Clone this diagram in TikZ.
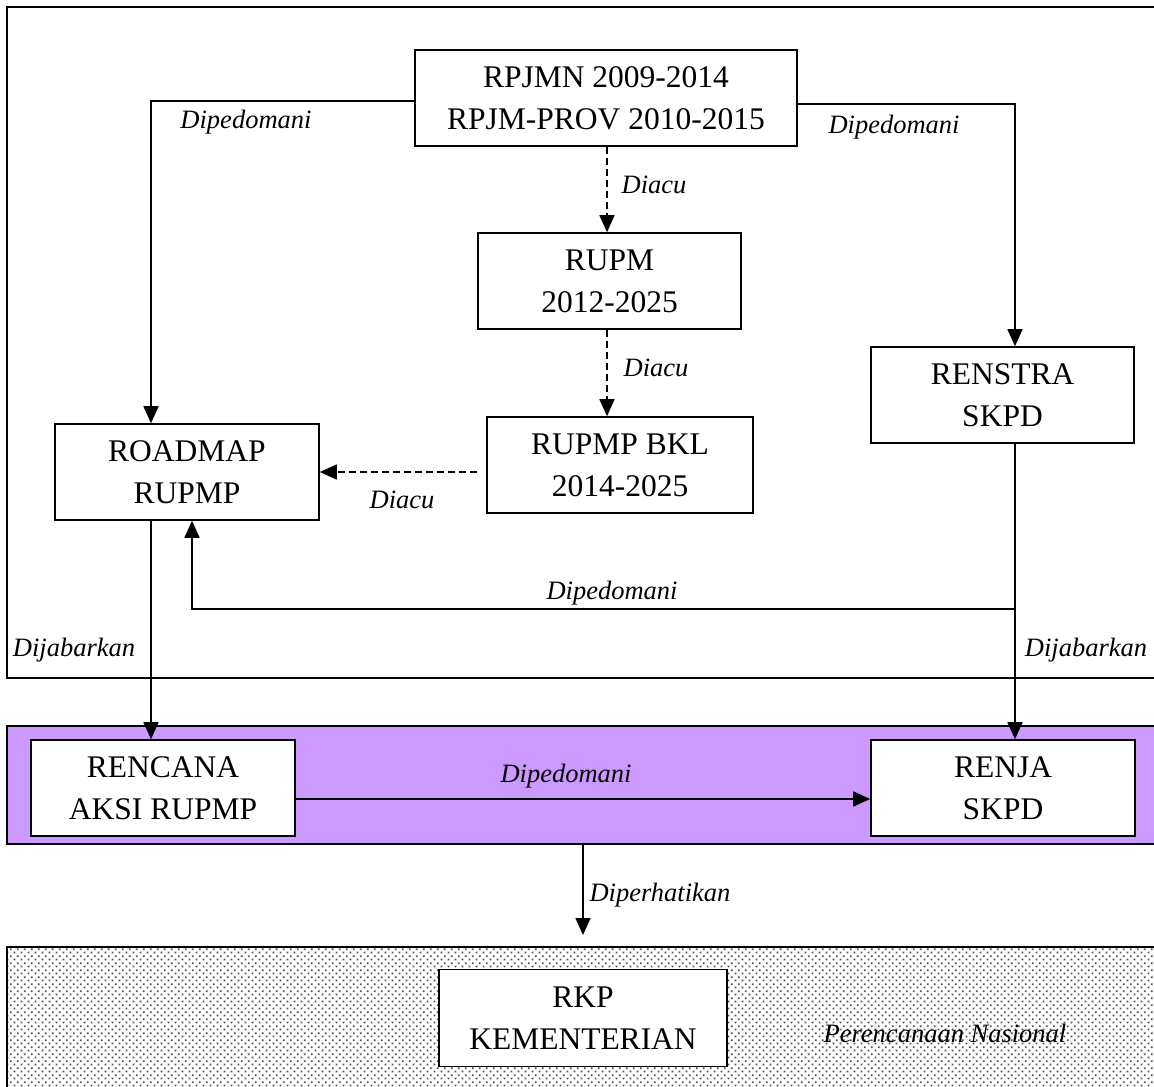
\documentclass[tikz,border=0pt]{standalone}
\usepackage{fontspec}
\setmainfont{Liberation Serif}
\usetikzlibrary{arrows.meta,patterns}
\definecolor{bandpurple}{RGB}{204,153,255}
\definecolor{dotgray}{RGB}{80,80,80}
\pgfdeclarepatternformonly{bigdots}{\pgfpointorigin}{\pgfqpoint{6.6pt}{6.6pt}}{\pgfqpoint{6.6pt}{6.6pt}}{%
  \pgfpathrectangle{\pgfqpoint{0.75pt}{0.75pt}}{\pgfqpoint{1.8pt}{1.8pt}}%
  \pgfpathrectangle{\pgfqpoint{4.05pt}{4.05pt}}{\pgfqpoint{1.8pt}{1.8pt}}%
  \pgfusepath{fill}}
\tikzset{
  box/.style={draw, line width=1.6pt, fill=white, align=center, inner sep=0pt,
    font=\fontsize{31.5}{42}\selectfont},
  lbl/.style={font=\fontsize{26.5}{30}\selectfont\itshape, inner sep=0pt},
  arr/.style={line width=1.6pt, -{Triangle[length=17pt,width=15pt]}},
  darr/.style={arr, dash pattern=on 7pt off 4pt},
  frame/.style={line width=1.8pt}
}
\begin{document}
\begin{tikzpicture}[x=1pt,y=-1pt]
\clip (0,0) rectangle (1154,1087);
\fill[white] (0,0) rectangle (1154,1087);
% frames
\draw[frame] (7,7) rectangle (1175,678);
\draw[frame, fill=bandpurple] (7,726) rectangle (1175,844);
\fill[white] (7,947) rectangle (1175,1100);
\fill[pattern=bigdots, pattern color=dotgray] (7,947) rectangle (1175,1100);
\draw[frame] (7,947) rectangle (1175,1100);
% boxes
\node[box, minimum width=382pt, minimum height=96pt] (rpj) at (606,98) {RPJMN 2009-2014\\RPJM-PROV 2010-2015};
\node[box, minimum width=263pt, minimum height=96pt] (rupm) at (609.5,281) {RUPM\\2012-2025};
\node[box, minimum width=266pt, minimum height=96pt] (bkl) at (620,465) {RUPMP BKL\\2014-2025};
\node[box, minimum width=264pt, minimum height=96pt] (road) at (187,472) {ROADMAP\\RUPMP};
\node[box, minimum width=263pt, minimum height=96pt] (renstra) at (1002.5,395) {RENSTRA\\SKPD};
\node[box, minimum width=264pt, minimum height=96pt] (rencana) at (163,788) {RENCANA\\AKSI RUPMP};
\node[box, minimum width=264pt, minimum height=96pt] (renja) at (1003,788) {RENJA\\SKPD};
\node[box, minimum width=288pt, minimum height=97pt] (rkp) at (583,1018) {RKP\\KEMENTERIAN};
% helper coordinates
\coordinate (lx) at (151,101);
\coordinate (rx) at (1015,104);
\coordinate (br) at (1015,609);
\coordinate (bl) at (192,609);
\coordinate (dx) at (607,0);
\coordinate (dpA) at (583,845);
\coordinate (dpB) at (583,935);
% solid connectors
\draw[arr] (rpj.west |- lx) -| (road.north -| lx);
\draw[arr] (rpj.east |- rx) -| (renstra.north -| rx);
\draw[arr] (renstra.south -| rx) -- (renja.north -| rx);
\draw[arr] (br) -- (bl) -- (road.south -| bl);
\draw[arr] (road.south -| lx) -- (rencana.north -| lx);
\draw[arr] (rencana.east |- 0,799) -- (renja.west |- 0,799);
\draw[arr] (dpA) -- (dpB);
% dashed connectors
\draw[darr] (rpj.south -| dx) -- (rupm.north -| dx);
\draw[darr] (rupm.south -| dx) -- (bkl.north -| dx);
\draw[darr] ([xshift=-9pt]bkl.west |- 0,472) -- (road.east |- 0,472);
% labels
\node[lbl] (l1) at (246,122) {Dipedomani};
\node[lbl] (l2) at (894,127) {Dipedomani};
\node[lbl] (l3) at (654,185) {Diacu};
\node[lbl] (l4) at (656,368) {Diacu};
\node[lbl] (l5) at (402,500) {Diacu};
\node[lbl] (l6) at (612,593) {Dipedomani};
\node[lbl] (l7) at (74,650) {Dijabarkan};
\node[lbl] (l8) at (1086,650) {Dijabarkan};
\node[lbl] (l9) at (566,776) {Dipedomani};
\node[lbl] (l10) at (660,895) {Diperhatikan};
\node[lbl] (l11) at (945,1033) {Perencanaan Nasional};
\end{tikzpicture}
\end{document}
